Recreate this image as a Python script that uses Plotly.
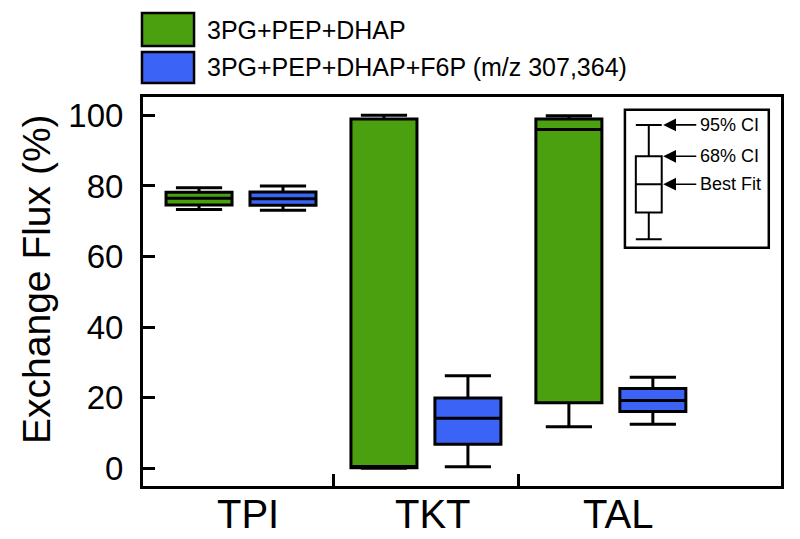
import plotly.graph_objects as go

# ---- data ----
categories = ["TPI", "TKT", "TAL"]
series_names = ["3PG+PEP+DHAP", "3PG+PEP+DHAP+F6P"]
series_colors = ["#4aa00f", "#3b64f6"]

# per category: lower 95% CI, lower 68% CI, best fit, upper 68% CI, upper 95% CI
green_low = [73.3, 0.0, 11.8]
green_q1 = [74.6, 0.2, 18.6]
green_med = [76.5, 0.5, 96.0]
green_q3 = [78.2, 99.0, 99.0]
green_up = [79.5, 100.0, 99.9]

blue_low = [73.1, 0.45, 12.5]
blue_q1 = [74.5, 6.8, 16.1]
blue_med = [76.4, 14.2, 19.2]
blue_q3 = [78.3, 19.9, 22.6]
blue_up = [80.0, 26.2, 25.8]

# inset key (illustrative box)
key_values = [64.9, 72.5, 80.5, 88.4, 97.3]  # low, q1, med, q3, up
key_labels = ["95% CI", "68% CI", "Best Fit"]

y_ticks = [0, 20, 40, 60, 80, 100]

# ---- layout constants ----
offset = 0.227
box_w = 0.357
font = "Liberation Sans, Arial, sans-serif"

fig = go.Figure()

series = [
    (green_low, green_q1, green_med, green_q3, green_up),
    (blue_low, blue_q1, blue_med, blue_q3, blue_up),
]
for s, (lo, q1, md, q3, up) in enumerate(series):
    for i, cat in enumerate(categories):
        xpos = i + (-offset if s == 0 else offset)
        fig.add_trace(go.Box(
            x=[xpos], lowerfence=[lo[i]], q1=[q1[i]], median=[md[i]],
            q3=[q3[i]], upperfence=[up[i]],
            width=box_w, whiskerwidth=0.7,
            fillcolor=series_colors[s],
            line=dict(color="black", width=3),
            name=series_names[s], showlegend=False, hoverinfo="skip",
        ))

# inset key box
key_x = 2.205
fig.add_trace(go.Box(
    x=[key_x], lowerfence=[key_values[0]], q1=[key_values[1]],
    median=[key_values[2]], q3=[key_values[3]], upperfence=[key_values[4]],
    width=0.14, whiskerwidth=1.0, fillcolor="white",
    line=dict(color="black", width=2), showlegend=False, hoverinfo="skip",
))

shapes = []
annotations = []

# inset frame
shapes.append(dict(type="rect", xref="x", yref="y", x0=2.076, x1=2.854,
                   y0=62.5, y1=101.6, line=dict(color="black", width=2.5),
                   fillcolor="rgba(0,0,0,0)", layer="below"))

key_points = [key_values[4], key_values[3], key_values[2]]
for lab, yv in zip(key_labels, key_points):
    annotations.append(dict(x=2.283, y=yv, ax=2.47, ay=yv, xref="x", yref="y",
                            axref="x", ayref="y", text="", showarrow=True,
                            arrowhead=2, arrowsize=1.6, arrowwidth=1.6,
                            arrowcolor="black"))
    annotations.append(dict(x=2.472, y=yv, xref="x", yref="y", text=lab,
                            showarrow=False, xanchor="left", yanchor="middle",
                            font=dict(family=font, size=18, color="black")))

# category labels
for i, cat in enumerate(categories):
    annotations.append(dict(x=i, y=-0.072, xref="x", yref="paper", text=cat,
                            showarrow=False, xanchor="center", yanchor="middle",
                            xshift=7, font=dict(family=font, size=40, color="black")))

# y title
annotations.append(dict(x=-0.166, y=0.53, xref="paper", yref="paper",
                        text="Exchange Flux (%)", textangle=-90, showarrow=False,
                        xanchor="center", yanchor="middle",
                        font=dict(family=font, size=39, color="black")))

# top legend
leg_rows = [(1.216, 1.131), (1.116, 1.036)]
leg_texts = ["3PG+PEP+DHAP", "3PG+PEP+DHAP+F6P (m/z 307,364)"]
for (y1, y0), col, txt in zip(leg_rows, series_colors, leg_texts):
    shapes.append(dict(type="rect", xref="paper", yref="paper", x0=-0.0016,
                       x1=0.080, y0=y0, y1=y1, fillcolor=col,
                       line=dict(color="black", width=2.5)))
    annotations.append(dict(x=0.0972, y=(y0 + y1) / 2, xref="paper", yref="paper",
                            text=txt, showarrow=False, xanchor="left",
                            yanchor="middle",
                            font=dict(family=font, size=25, color="black")))

fig.update_layout(
    width=792, height=531,
    margin=dict(l=135, r=19, t=89, b=53),
    paper_bgcolor="white", plot_bgcolor="white",
    shapes=shapes, annotations=annotations,
    font=dict(family=font, color="black"),
    boxmode="overlay",
)
fig.update_xaxes(range=[-0.53, 2.92], tickvals=[0.5, 1.5], ticktext=["", ""],
                 ticks="inside", ticklen=12, tickwidth=3, tickcolor="black",
                 showline=True, linecolor="black", linewidth=3, mirror=True,
                 showgrid=False, zeroline=False)
fig.update_yaxes(range=[-5.0, 105.2], tickvals=y_ticks,
                 ticks="inside", ticklen=12, tickwidth=3, tickcolor="black",
                 showline=True, linecolor="black", linewidth=3, mirror=True,
                 showgrid=False, zeroline=False, ticklabelstandoff=10,
                 tickfont=dict(family=font, size=33, color="black"))

fig.write_html("out.html")
